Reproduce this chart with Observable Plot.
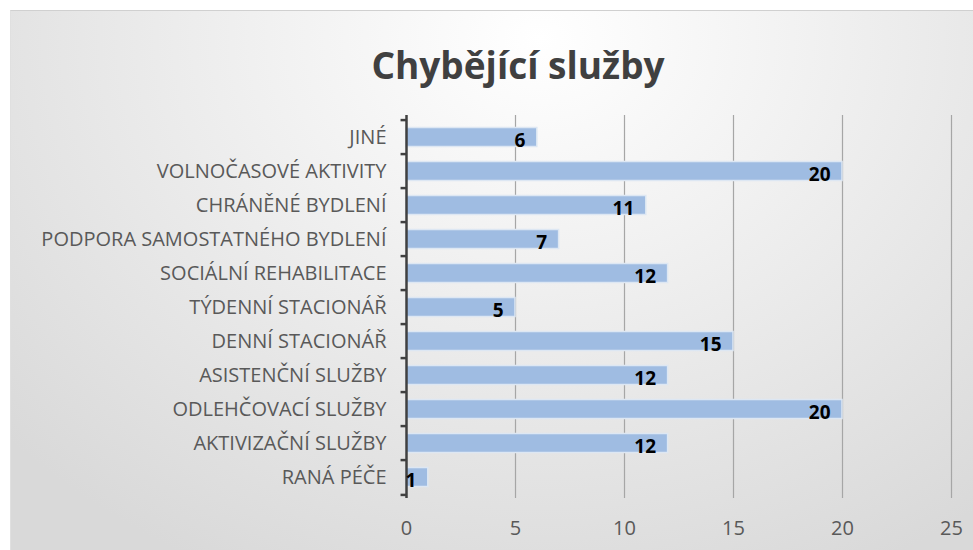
<!DOCTYPE html>
<html>
<head>
<meta charset="utf-8">
<script src="https://cdn.jsdelivr.net/npm/d3@7"></script>
<script src="https://cdn.jsdelivr.net/npm/@observablehq/plot@0.6"></script>
<style>
  html, body { margin: 0; padding: 0; background: #fff; width: 973px; height: 550px; overflow: hidden; }
  #frame {
    position: absolute; left: 10px; top: 10px; width: 963px; height: 540px;
    background: radial-gradient(ellipse 75% 110% at 55% 5%, #ffffff 0%, #f2f2f2 35%, #d9d9d9 100%);
    border-top: 1px solid #d0d0d0; border-left: 1px solid #e0e0e0; box-sizing: border-box;
  }
  #title {
    position: absolute; left: 0; top: 28px; width: 1014px; text-align: center;
    font-family: "Open Sans", sans-serif; font-weight: 700; font-size: 37px; color: #404040;
  }
  #chart { position: absolute; left: 0; top: 90px; line-height: 0; }
  #chart svg { display: block; }
</style>
</head>
<body>
<div id="frame">
  <div id="title">Chybějící služby</div>
  <div id="chart"></div>
</div>
<script>
const categories = ["JINÉ", "VOLNOČASOVÉ AKTIVITY", "CHRÁNĚNÉ BYDLENÍ", "PODPORA SAMOSTATNÉHO BYDLENÍ", "SOCIÁLNÍ REHABILITACE", "TÝDENNÍ STACIONÁŘ", "DENNÍ STACIONÁŘ", "ASISTENČNÍ SLUŽBY", "ODLEHČOVACÍ SLUŽBY", "AKTIVIZAČNÍ SLUŽBY", "RANÁ PÉČE"];
const values = [6, 20, 11, 7, 12, 5, 15, 12, 20, 12, 1];
const xTicks = [0, 5, 10, 15, 20, 25];

const data = categories.map((c, i) => ({category: c, value: values[i]}));

const W = 962, H = 449, mt = 14, mb = 52, ml = 395, mr = 22;
const band = (H - mt - mb) / categories.length;

const plot = Plot.plot({
  width: W, height: H,
  marginTop: mt, marginBottom: mb, marginLeft: ml, marginRight: mr,
  style: { background: "transparent", fontFamily: "Open Sans, sans-serif", fontSize: "20px", color: "#595959", overflow: "visible" },
  x: { domain: [0, 25], ticks: xTicks, label: null },
  y: { domain: categories, padding: 0, label: null },
  marks: [
    Plot.ruleX(xTicks.filter(t => t > 0), { stroke: "#a6a6a6", strokeWidth: 1.2 }),
    Plot.barX(data, { y: "category", x: "value", fill: "#9fbce2", stroke: "#dde7f3", strokeWidth: 1.5, insetTop: 7.5, insetBottom: 7.5 }),
    Plot.ruleY(categories, { y: d => d, x1: -0.25, x2: 0, dy: -band / 2, stroke: "#404040", strokeWidth: 2.5 }),
    Plot.ruleY(categories.slice(-1), { y: d => d, x1: -0.25, x2: 0, dy: band / 2, stroke: "#404040", strokeWidth: 2.5 }),
    Plot.ruleX([0], { stroke: "#404040", strokeWidth: 2.5 }),
    Plot.text(data, { y: "category", x: "value", text: d => String(d.value), textAnchor: "end", dx: -12, dy: 3, fill: "#000", fontWeight: 700, fontSize: 19 }),
    Plot.axisX({ ticks: xTicks, tickSize: 0, tickPadding: 22, fill: "#595959", fontSize: 20 }),
    Plot.axisY({ tickSize: 0, tickPadding: 20, fill: "#595959", fontSize: 20 })
  ]
});
document.getElementById("chart").appendChild(plot);
</script>
</body>
</html>
